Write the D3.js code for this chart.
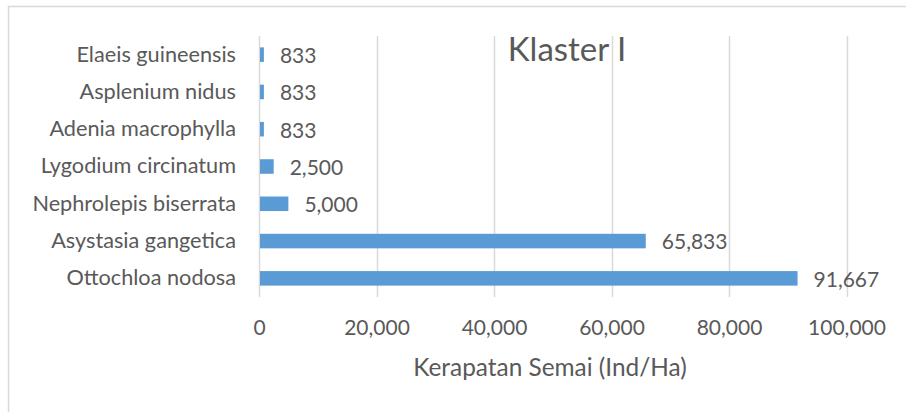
<!DOCTYPE html>
<html>
<head>
<meta charset="utf-8">
<script src="https://cdn.jsdelivr.net/npm/d3@7"></script>
<style>
  body { margin: 0; background: #fff; }
  svg text { font-family: Lato, "Open Sans", sans-serif; fill: #595959; }
</style>
</head>
<body>
<script>
// data
const species = ["Elaeis guineensis", "Asplenium nidus", "Adenia macrophylla",
  "Lygodium circinatum", "Nephrolepis biserrata", "Asystasia gangetica", "Ottochloa nodosa"];
const density = [833, 833, 833, 2500, 5000, 65833, 91667];
const xTicks = [0, 20000, 40000, 60000, 80000, 100000];
const title = "Klaster I";
const xTitle = "Kerapatan Semai (Ind/Ha)";

const width = 906, height = 412;
const margin = { top: 36, right: 59.5, bottom: 115, left: 259 };

const svg = d3.select("body").append("svg")
    .attr("width", width)
    .attr("height", height);

// chart frame (runs off the right/bottom edge like the screenshot)
svg.append("rect")
    .attr("x", 8.5).attr("y", 6.5)
    .attr("width", 920).attr("height", 420)
    .attr("fill", "none")
    .attr("stroke", "#d9d9d9")
    .attr("stroke-width", 1.5);

const x = d3.scaleLinear()
    .domain([0, 100000])
    .range([margin.left, width - margin.right]);

const y = d3.scaleBand()
    .domain(species)
    .range([margin.top, height - margin.bottom])
    .paddingInner(0.61)
    .paddingOuter(0.305);

// gridlines
svg.append("g")
  .selectAll("line")
  .data(xTicks)
  .join("line")
    .attr("x1", d => Math.round(x(d)) + 0.5)
    .attr("x2", d => Math.round(x(d)) + 0.5)
    .attr("y1", margin.top)
    .attr("y2", height - margin.bottom)
    .attr("stroke", "#d9d9d9")
    .attr("stroke-width", 1.5);

// title
svg.append("text")
    .attr("x", 567)
    .attr("y", 61)
    .attr("text-anchor", "middle")
    .style("font-size", "33px")
    .text(title);

// bars
const rows = species.map((s, i) => ({ name: s, value: density[i] }));

svg.append("g")
  .selectAll("rect")
  .data(rows)
  .join("rect")
    .attr("x", x(0) + 1)
    .attr("y", d => y(d.name))
    .attr("width", d => x(d.value) - x(0) - 1)
    .attr("height", y.bandwidth())
    .attr("fill", "#5b9bd5");

// value labels
svg.append("g")
  .selectAll("text")
  .data(rows)
  .join("text")
    .attr("x", d => x(d.value) + 16)
    .attr("y", d => y(d.name) + y.bandwidth() / 2)
    .attr("dy", "0.4em")
    .style("font-size", "21px")
    .text(d => d3.format(",")(d.value));

// category axis labels
const yAxis = svg.append("g")
    .attr("transform", `translate(${margin.left},0)`)
    .call(d3.axisLeft(y).tickSize(0).tickPadding(23));
yAxis.select(".domain").remove();
yAxis.selectAll("text")
    .style("font-size", "21.7px")
    .style("font-family", "Lato")
    .style("fill", "#595959");

// value axis labels
const xAxis = svg.append("g")
    .attr("transform", `translate(0,${height - margin.bottom})`)
    .call(d3.axisBottom(x).tickValues(xTicks).tickFormat(d3.format(",")).tickSize(0).tickPadding(23));
xAxis.select(".domain").remove();
xAxis.selectAll("text")
    .style("font-size", "21px")
    .style("font-family", "Lato")
    .style("fill", "#595959");

// axis title
svg.append("text")
    .attr("x", 550)
    .attr("y", 376)
    .attr("text-anchor", "middle")
    .style("font-size", "24.4px")
    .text(xTitle);
</script>
</body>
</html>
